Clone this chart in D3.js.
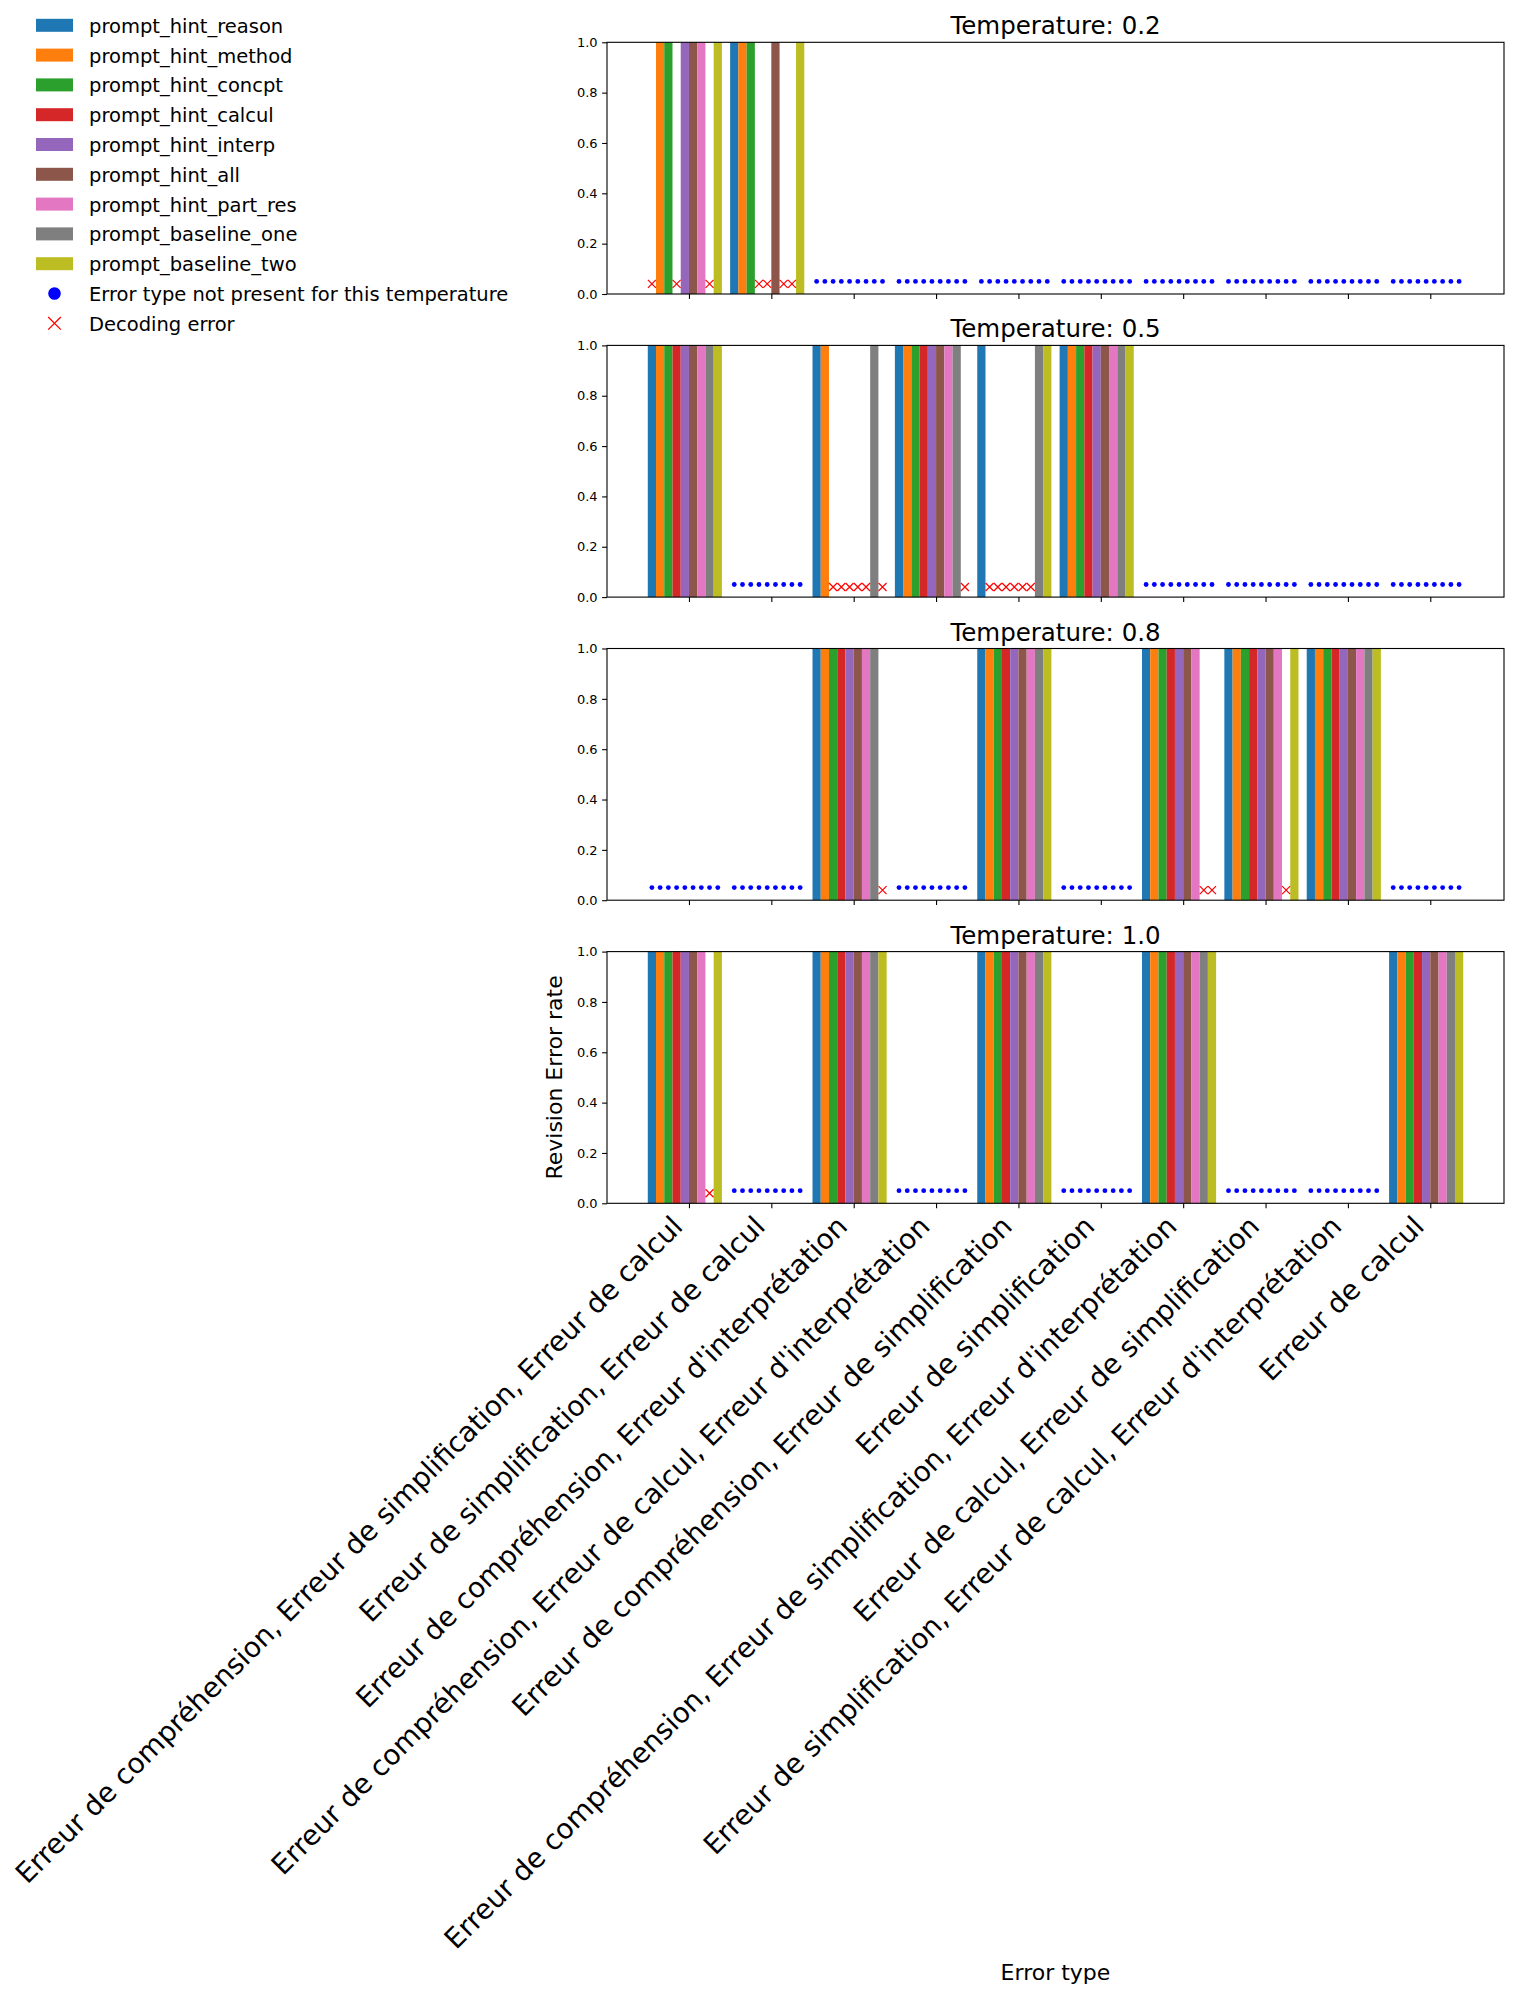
<!DOCTYPE html>
<html>
<head>
<meta charset="utf-8">
<script src="https://cdn.jsdelivr.net/npm/d3@7"></script>
<style>
  body { margin: 0; background: #fff; }
  text { font-family: "DejaVu Sans", sans-serif; fill: #000; }
</style>
</head>
<body>
<div id="chart"></div>
<script>

// error type categories (x axis)
const categories = [
  "Erreur de compréhension, Erreur de simplification, Erreur de calcul",
  "Erreur de simplification, Erreur de calcul",
  "Erreur de compréhension, Erreur d'interprétation",
  "Erreur de compréhension, Erreur de calcul, Erreur d'interprétation",
  "Erreur de compréhension, Erreur de simplification",
  "Erreur de simplification",
  "Erreur de compréhension, Erreur de simplification, Erreur d'interprétation",
  "Erreur de calcul, Erreur de simplification",
  "Erreur de simplification, Erreur de calcul, Erreur d'interprétation",
  "Erreur de calcul"
];

const prompts = [
  "prompt_hint_reason", "prompt_hint_method", "prompt_hint_concpt",
  "prompt_hint_calcul", "prompt_hint_interp", "prompt_hint_all",
  "prompt_hint_part_res", "prompt_baseline_one", "prompt_baseline_two"
];

const colors = ["#1f77b4", "#ff7f0e", "#2ca02c", "#d62728", "#9467bd",
                "#8c564b", "#e377c2", "#7f7f7f", "#bcbd22"];

const temperatures = ["0.2", "0.5", "0.8", "1.0"];

// per category: 9 rates (one per prompt), D = decoding error,
// null = error type not present for this temperature
const D = "D";
const ALL = [1, 1, 1, 1, 1, 1, 1, 1, 1];

const ratesT02 = [
  [D, 1, 1, D, 1, 1, 1, D, 1],
  [1, 1, 1, D, D, 1, D, D, 1],
  null, null, null, null, null, null, null, null
];
const ratesT05 = [
  ALL,
  null,
  [1, 1, D, D, D, D, D, 1, D],
  [1, 1, 1, 1, 1, 1, 1, 1, D],
  [1, D, D, D, D, D, D, 1, 1],
  ALL,
  null, null, null, null
];
const ratesT08 = [
  null, null,
  [1, 1, 1, 1, 1, 1, 1, 1, D],
  null,
  ALL,
  null,
  [1, 1, 1, 1, 1, 1, 1, D, D],
  [1, 1, 1, 1, 1, 1, 1, D, 1],
  ALL,
  null
];
const ratesT10 = [
  [1, 1, 1, 1, 1, 1, 1, D, 1],
  null,
  ALL,
  null,
  ALL,
  null,
  ALL,
  null, null,
  ALL
];
const allRates = [ratesT02, ratesT05, ratesT08, ratesT10];

const yTicks = [0, 0.2, 0.4, 0.6, 0.8, 1.0];

const width = 1514, height = 1995;
const margin = { left: 607, right: 10 };
const panelTop0 = 42.3, panelStep = 303.1, panelH = 251.7;
const barW = 0.1;

let svg = d3.select("#chart")
  .append("svg")
  .attr("width", width)
  .attr("height", height)
  .attr("viewBox", [0, 0, width, height]);

// x scale: data range -0.5 .. 9.4 with matplotlib 5% margins
let xScale = d3.scaleLinear()
  .domain([-0.995, 9.895])
  .range([margin.left, width - margin.right]);

const barX = (ci, pi) => ci - 0.5 + pi * barW;           // left edge
const barC = (ci, pi) => ci - 0.45 + pi * barW;          // center

function crossPath(s) {
  return `M${-s},${-s}L${s},${s}M${-s},${s}L${s},${-s}`;
}

allRates.forEach((rates, k) => {
  let top = panelTop0 + k * panelStep;
  let yScale = d3.scaleLinear().domain([0, 1]).range([top + panelH, top]);
  let g = svg.append("g");

  // bars
  rates.forEach((row, ci) => {
    if (row === null) return;
    row.forEach((v, pi) => {
      if (v === D) return;
      g.append("rect")
        .attr("x", xScale(barX(ci, pi)))
        .attr("y", yScale(v))
        .attr("width", xScale(barW) - xScale(0))
        .attr("height", yScale(0) - yScale(v))
        .attr("fill", colors[pi]);
    });
  });

  // not present dots
  rates.forEach((row, ci) => {
    if (row !== null) return;
    prompts.forEach((p, pi) => {
      g.append("circle")
        .attr("cx", xScale(barC(ci, pi)))
        .attr("cy", yScale(0.05))
        .attr("r", 2.4)
        .attr("fill", "#0000ff");
    });
  });

  // decoding errors
  rates.forEach((row, ci) => {
    if (row === null) return;
    row.forEach((v, pi) => {
      if (v !== D) return;
      g.append("path")
        .attr("transform", `translate(${xScale(barC(ci, pi))},${yScale(0.04)})`)
        .attr("d", crossPath(4))
        .attr("stroke", "#ff0000")
        .attr("stroke-width", 1.2)
        .attr("fill", "none");
    });
  });

  // y axis
  let yAxis = g.append("g")
    .attr("transform", `translate(${margin.left},0)`)
    .call(d3.axisLeft(yScale).tickValues(yTicks).tickFormat(d3.format(".1f"))
      .tickSize(4.9).tickPadding(4.5));
  yAxis.select(".domain").remove();
  yAxis.selectAll("text").attr("font-size", "13px").attr("font-family", "DejaVu Sans");
  yAxis.selectAll("line").attr("stroke-width", 1.1);

  // x axis ticks (labels only on the last panel)
  let xAxis = g.append("g")
    .attr("transform", `translate(0,${top + panelH})`)
    .call(d3.axisBottom(xScale).tickValues(d3.range(categories.length))
      .tickSize(4.9).tickFormat(""));
  xAxis.select(".domain").remove();
  xAxis.selectAll("line").attr("stroke-width", 1.1);

  // frame
  g.append("rect")
    .attr("x", margin.left)
    .attr("y", top)
    .attr("width", width - margin.right - margin.left)
    .attr("height", panelH)
    .attr("fill", "none")
    .attr("stroke", "#000")
    .attr("stroke-width", 1.1);

  // title
  g.append("text")
    .attr("x", (margin.left + width - margin.right) / 2)
    .attr("y", top - 8)
    .attr("text-anchor", "middle")
    .attr("font-size", "24.5px")
    .text("Temperature: " + temperatures[k]);

  if (k === allRates.length - 1) {
    // rotated category labels
    const fs = 27.8, c = Math.SQRT1_2;
    categories.forEach((lab, ci) => {
      let x0 = xScale(ci) - c * 0.236 * fs;
      let y0 = top + panelH + 9.8 + c * 0.76 * fs;
      g.append("text")
        .attr("transform", `translate(${x0},${y0}) rotate(-45)`)
        .attr("text-anchor", "end")
        .attr("font-size", fs + "px")
        .text(lab);
    });

    // y label
    g.append("text")
      .attr("transform", `translate(${562},${top + panelH / 2}) rotate(-90)`)
      .attr("text-anchor", "middle")
      .attr("font-size", "22px")
      .text("Revision Error rate");
  }
});

// x label
svg.append("text")
  .attr("x", (margin.left + width - margin.right) / 2)
  .attr("y", 1980)
  .attr("text-anchor", "middle")
  .attr("font-size", "22px")
  .text("Error type");

// legend
let legend = svg.append("g");
const legY0 = 25.3, legStep = 29.8;
prompts.forEach((p, i) => {
  let cy = legY0 + i * legStep;
  legend.append("rect")
    .attr("x", 36).attr("y", cy - 6.5)
    .attr("width", 37).attr("height", 13)
    .attr("fill", colors[i]);
  legend.append("text")
    .attr("x", 89).attr("y", cy + 7.5)
    .attr("font-size", "19.5px")
    .text(p);
});
let cyDot = legY0 + 9 * legStep;
legend.append("circle")
  .attr("cx", 54.5).attr("cy", cyDot).attr("r", 6.3).attr("fill", "#0000ff");
legend.append("text")
  .attr("x", 89).attr("y", cyDot + 7.5)
  .attr("font-size", "19.5px")
  .text("Error type not present for this temperature");
let cyX = legY0 + 10 * legStep;
legend.append("path")
  .attr("transform", `translate(54.5,${cyX})`)
  .attr("d", crossPath(6.3))
  .attr("stroke", "#ff0000").attr("stroke-width", 1.3).attr("fill", "none");
legend.append("text")
  .attr("x", 89).attr("y", cyX + 7.5)
  .attr("font-size", "19.5px")
  .text("Decoding error");

</script>
</body>
</html>
